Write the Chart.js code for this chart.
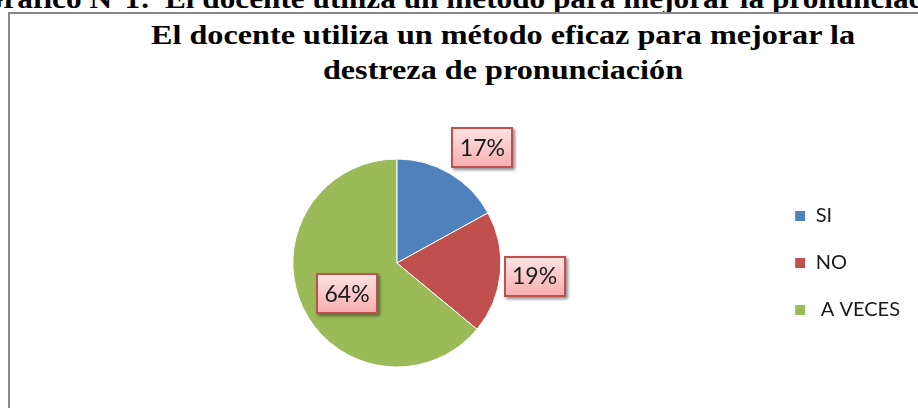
<!DOCTYPE html>
<html><head><meta charset="utf-8">
<script src="https://cdn.jsdelivr.net/npm/chart.js@4.4.1/dist/chart.umd.min.js"></script>
<style>
html,body{margin:0;padding:0;width:918px;height:408px;overflow:hidden;background:#fff;position:relative;}
.cap{position:absolute;top:-16px;white-space:nowrap;font:bold 28px "Liberation Serif",serif;color:#000;line-height:30px;}
#cap1{right:768px;transform:scaleX(1.116);transform-origin:100% 0;}
#cap2{left:165px;transform:scaleX(1.116);transform-origin:0 0;}
#box{position:absolute;left:8px;top:12px;width:1000px;height:430px;border-left:2px solid #878787;border-top:2px solid #878787;}
#title{position:absolute;left:0;top:17px;width:1006px;text-align:center;font:bold 28px "Liberation Serif",serif;line-height:35px;color:#000;transform:scaleX(1.15);transform-origin:503px 0;}
#wrap{position:absolute;left:10px;top:14px;width:900px;height:420px;}
</style></head><body>
<div class="cap" id="cap1">Gráfico N°1:</div>
<div class="cap" id="cap2">El docente utiliza un método para mejorar la pronunciación</div>
<div id="box"></div>
<div id="title"></div>
<div id="wrap"><canvas id="c"></canvas></div>
<script>
const titleLines = ['El docente utiliza un método eficaz para mejorar la', 'destreza de pronunciación'];
const categories = ['SI', 'NO', ' A VECES'];
const percentages = [17, 19, 64];
const sliceColors = ['#4f81bd', '#c0504d', '#9bbb59'];

document.getElementById('title').innerHTML = titleLines.map(t => '<div>' + t + '</div>').join('');

const labelPlacement = [{k: 1.38, da: 6}, {k: 1.33, da: 0}, {k: 0.56, da: -6}];
const pieLabels = {
  id: 'pieLabels',
  afterDatasetsDraw(chart) {
    const ctx = chart.ctx;
    const meta = chart.getDatasetMeta(0);
    meta.data.forEach((arc, i) => {
      const p = arc.getProps(['x', 'y', 'startAngle', 'endAngle', 'outerRadius'], true);
      const pl = labelPlacement[i];
      const a = (p.startAngle + p.endAngle) / 2 + pl.da * Math.PI / 180;
      const cx = p.x + Math.cos(a) * p.outerRadius * pl.k;
      const cy = p.y + Math.sin(a) * p.outerRadius * pl.k;
      const w = 62, h = 41;
      const x0 = Math.round(cx - w / 2), y0 = Math.round(cy - h / 2);
      ctx.save();
      const g = ctx.createLinearGradient(0, y0, 0, y0 + h);
      g.addColorStop(0, '#fde4e4');
      g.addColorStop(1, '#f7adad');
      ctx.shadowColor = 'rgba(0,0,0,0.45)';
      ctx.shadowOffsetX = 2; ctx.shadowOffsetY = 2; ctx.shadowBlur = 3;
      ctx.fillStyle = g;
      ctx.fillRect(x0, y0, w, h);
      ctx.shadowColor = 'transparent';
      ctx.strokeStyle = '#c0504d';
      ctx.lineWidth = 2;
      ctx.strokeRect(x0 + 1, y0 + 1, w - 2, h - 2);
      ctx.fillStyle = '#1a1a1a';
      ctx.font = '23px Lato';
      ctx.textAlign = 'center';
      ctx.textBaseline = 'middle';
      ctx.fillText(percentages[i] + '%', cx, cy + 1);
      ctx.restore();
    });
  }
};

new Chart(document.getElementById('c'), {
  type: 'pie',
  data: {
    labels: categories,
    datasets: [{
      data: percentages,
      backgroundColor: sliceColors,
      borderColor: '#ffffff',
      borderWidth: 1
    }]
  },
  options: {
    responsive: true,
    maintainAspectRatio: false,
    animation: false,
    radius: 104,
    layout: {padding: {left: 16, top: 78, right: 0, bottom: 0}},
    plugins: {
      title: {display: false},
      tooltip: {enabled: false},
      legend: {
        position: 'right',
        align: 'center',
        labels: {
          font: {family: 'Lato', size: 20},
          color: '#1a1a1a',
          boxWidth: 11,
          boxHeight: 11,
          padding: 27
        }
      }
    }
  },
  plugins: [pieLabels]
});
</script>
</body></html>
